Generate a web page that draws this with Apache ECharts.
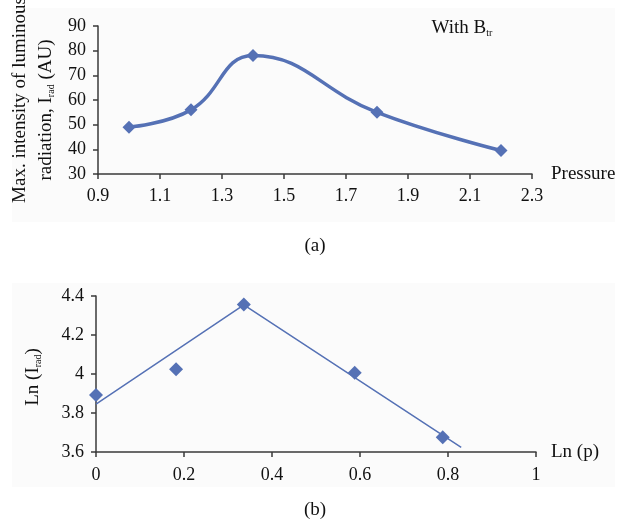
<!DOCTYPE html>
<html>
<head>
<meta charset="utf-8">
<script src="https://cdn.jsdelivr.net/npm/echarts@6/dist/echarts.min.js"></script>
<style>
  html, body { margin: 0; padding: 0; background: #fff; }
  #charts { width: 623px; height: 523px; }
</style>
</head>
<body>
<div id="charts"></div>
<script>
// (a) pressure vs max intensity
var pressure = [1.0, 1.2, 1.4, 1.8, 2.2];
var intensity = [49, 56, 78, 55, 39.5];
// (b) ln(p) vs ln(I_rad)
var lnP = [0, 0.182, 0.336, 0.588, 0.788];
var lnI = [3.892, 4.025, 4.357, 4.007, 3.676];
// fitted straight segments in (b)
var fitX = [0, 0.336, 0.83];
var fitY = [3.846, 4.355, 3.624];

var blue = '#5571b5';
var font = 'Liberation Serif';
var axisCol = '#3a3a3a';

function pairs(xs, ys) {
    return xs.map(function (x, i) { return [x, ys[i]]; });
}

var myChart = echarts.init(document.getElementById('charts'));

var axisBase = {
    axisLine: { show: true, lineStyle: { color: axisCol, width: 1.5 } },
    axisTick: { show: true, inside: false, length: 5, lineStyle: { color: axisCol, width: 1.5 } },
    splitLine: { show: false },
    axisLabel: { color: '#111', fontFamily: font, fontSize: 18 }
};

function ax(extra) {
    return echarts.util.merge(echarts.util.clone(axisBase), extra, true);
}

var option = {
    animation: false,
    backgroundColor: '#fff',
    grid: [
        { left: 98, top: 26, width: 434, height: 148 },
        { left: 96, top: 296, width: 440, height: 156 }
    ],
    xAxis: [
        ax({
            gridIndex: 0, type: 'value', min: 0.9, max: 2.3, interval: 0.2,
            name: 'Pressure', nameLocation: 'end', nameGap: 19,
            nameTextStyle: { color: '#111', fontFamily: font, fontSize: 19, verticalAlign: 'middle' },
            axisLabel: { margin: 13, formatter: function (v) { return v.toFixed(1); } }
        }),
        ax({
            gridIndex: 1, type: 'value', min: 0, max: 1, interval: 0.2,
            name: 'Ln (p)', nameLocation: 'end', nameGap: 15,
            nameTextStyle: { color: '#111', fontFamily: font, fontSize: 19, verticalAlign: 'middle' },
            axisLabel: { margin: 14 }
        })
    ],
    yAxis: [
        ax({
            gridIndex: 0, type: 'value', min: 30, max: 90, interval: 10,
            axisLabel: { margin: 12 }
        }),
        ax({
            gridIndex: 1, type: 'value', min: 3.6, max: 4.4, interval: 0.2,
            axisLabel: { margin: 12 }
        })
    ],
    graphic: [
        { type: 'rect', z: -10, shape: { x: 12, y: 8, width: 603, height: 214 }, style: { fill: '#fbfbfb' } },
        { type: 'rect', z: -10, shape: { x: 12, y: 283, width: 603, height: 204 }, style: { fill: '#fbfbfb' } },
        {
            type: 'text', x: 20, y: 100, rotation: Math.PI / 2,
            style: { text: 'Max. intensity of luminous', fill: '#111', font: '19px ' + font, align: 'center', verticalAlign: 'middle' }
        },
        {
            type: 'text', x: 46, y: 110, rotation: Math.PI / 2,
            style: {
                text: 'radiation, I{s|rad} (AU)', fill: '#111', font: '19px ' + font, align: 'center', verticalAlign: 'middle',
                rich: { s: { fontSize: 10, fontFamily: font, fill: '#111', padding: [11, 0, 0, 0] } }
            }
        },
        {
            type: 'text', x: 462, y: 28,
            style: {
                text: 'With B{s|tr}', fill: '#111', font: '19px ' + font, align: 'center', verticalAlign: 'middle',
                rich: { s: { fontSize: 10, fontFamily: font, fill: '#111', padding: [11, 0, 0, 0] } }
            }
        },
        {
            type: 'text', x: 33, y: 377, rotation: Math.PI / 2,
            style: {
                text: 'Ln (I{s|rad})', fill: '#111', font: '19px ' + font, align: 'center', verticalAlign: 'middle',
                rich: { s: { fontSize: 10, fontFamily: font, fill: '#111', padding: [11, 0, 0, 0] } }
            }
        },
        { type: 'text', x: 315, y: 246, style: { text: '(a)', fill: '#111', font: '19px ' + font, align: 'center', verticalAlign: 'middle' } },
        { type: 'text', x: 315, y: 510, style: { text: '(b)', fill: '#111', font: '19px ' + font, align: 'center', verticalAlign: 'middle' } }
    ],
    series: [
        {
            type: 'line', xAxisIndex: 0, yAxisIndex: 0,
            data: pairs(pressure, intensity),
            smooth: 0.45,
            symbol: 'diamond', symbolSize: 13,
            itemStyle: { color: blue },
            lineStyle: { color: blue, width: 3.5 }
        },
        {
            type: 'line', xAxisIndex: 1, yAxisIndex: 1,
            data: pairs(fitX, fitY),
            symbol: 'none',
            lineStyle: { color: blue, width: 1.5 }
        },
        {
            type: 'scatter', xAxisIndex: 1, yAxisIndex: 1,
            data: pairs(lnP, lnI),
            symbol: 'diamond', symbolSize: 14,
            itemStyle: { color: blue, opacity: 1 }
        }
    ]
};

myChart.setOption(option);
</script>
</body>
</html>
